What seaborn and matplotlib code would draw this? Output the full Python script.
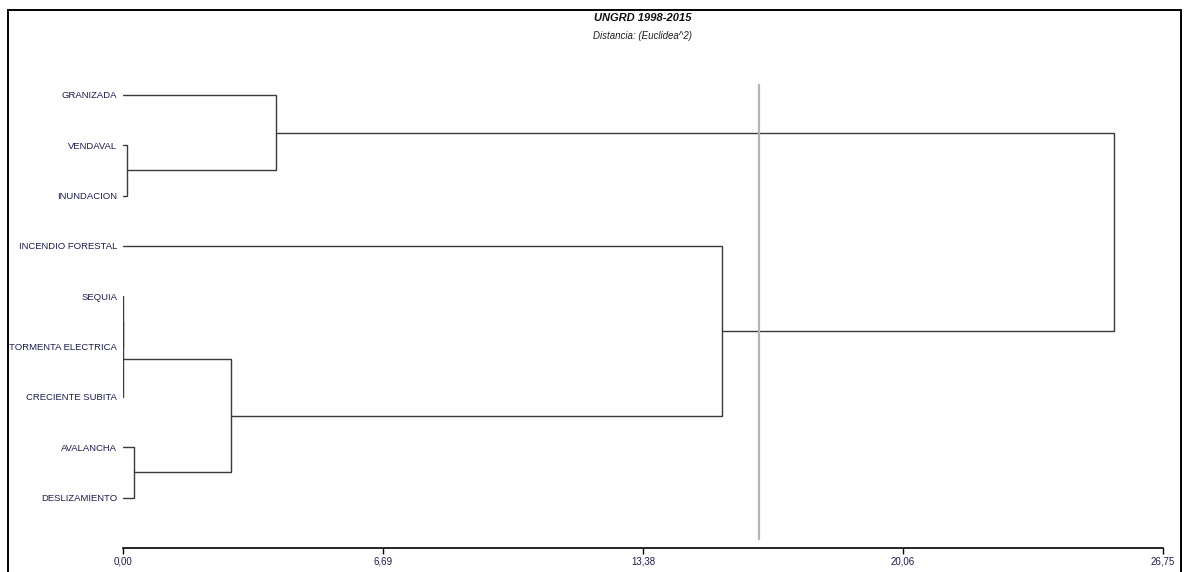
import matplotlib
matplotlib.use("Agg")
import matplotlib.pyplot as plt
from matplotlib.patches import Rectangle
import seaborn as sns

# Leaves, top to bottom
leaves = ["GRANIZADA", "VENDAVAL", "INUNDACION", "INCENDIO FORESTAL", "SEQUIA",
          "TORMENTA ELECTRICA", "CRECIENTE SUBITA", "AVALANCHA", "DESLIZAMIENTO"]

# Agglomeration steps: (left node, right node, distance); new nodes numbered after the leaves
merge_left = [1, 4, 10, 7, 0, 11, 3, 13]
merge_right = [2, 5, 6, 8, 9, 12, 14, 15]
merge_dist = [0.10, 0.00, 0.00, 0.30, 3.93, 2.78, 15.40, 25.50]

cut_distance = 16.35
tick_values = [0.00, 6.69, 13.38, 20.06, 26.75]
tick_labels = ["0,00", "6,69", "13,38", "20,06", "26,75"]

sns.set_style("white")
plt.rcParams["font.family"] = ["Liberation Sans", "DejaVu Sans"]

fig = plt.figure(figsize=(11.84, 5.72), dpi=100)
ax = fig.add_axes([122.7 / 1184, 1 - 548 / 572, (1163 - 122.7) / 1184, (548 - 44.6) / 572])

# Node positions and heights
pos = {i: float(i) for i in range(len(leaves))}
height = {i: 0.0 for i in range(len(leaves))}
line_color = "#3a3a3a"
for k, (a, b, d) in enumerate(zip(merge_left, merge_right, merge_dist)):
    node = len(leaves) + k
    ya, yb = pos[a], pos[b]
    ax.plot([height[a], d, d, height[b]], [ya, ya, yb, yb],
            color=line_color, lw=1.0, solid_joinstyle="miter")
    pos[node] = (ya + yb) / 2
    height[node] = d

# Cut line
ax.plot([cut_distance, cut_distance], [-0.2, 8.83], color="#b4b4b4", lw=1.6)

ax.set_xlim(0, 26.75)
ax.set_ylim(9, -1)
ax.set_xticks(tick_values)
ax.set_xticklabels(tick_labels, fontsize=7, color="#1c1c4a")
ax.set_yticks(range(len(leaves)))
ax.set_yticklabels(leaves, fontsize=6.8, color="#1c1c4a")
ax.tick_params(axis="y", length=0, pad=4)
ax.tick_params(axis="x", length=4, width=1, direction="out", pad=2, color="black", bottom=True)
for side in ["top", "right", "left"]:
    ax.spines[side].set_visible(False)
ax.spines["bottom"].set_color("black")
ax.spines["bottom"].set_linewidth(1.2)

# Titles
cx = (122.7 + 1163) / 2 / 1184
fig.text(cx, 1 - 18 / 572, "UNGRD 1998-2015", ha="center", va="center",
         fontsize=8, fontweight="bold", fontstyle="italic", color="#111111")
fig.text(cx, 1 - 36 / 572, "Distancia: (Euclidea^2)", ha="center", va="center",
         fontsize=7, fontstyle="italic", color="#222222")

# Outer frame
fig.patches.append(Rectangle((8 / 1184, -0.02), (1181 - 8) / 1184, 1.02 - 10 / 572,
                             transform=fig.transFigure, fill=False,
                             edgecolor="black", linewidth=1.4))

fig.savefig("out.png", dpi=100)
